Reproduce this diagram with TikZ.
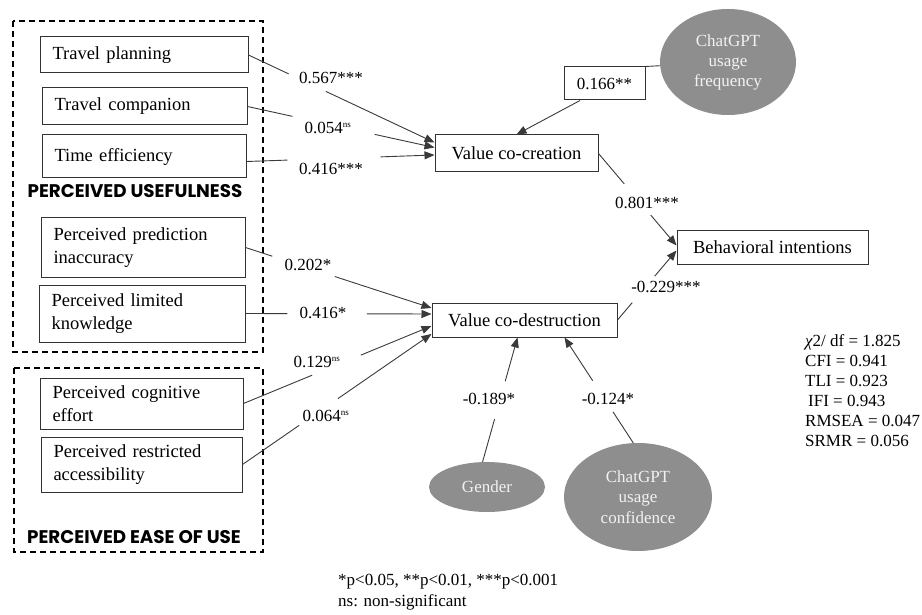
\documentclass[tikz,border=0pt]{standalone}
\usepackage{fontspec}
\setmainfont{Liberation Serif}
\newfontfamily\headfont{Poppins}
\usetikzlibrary{arrows.meta,shapes.geometric,calc}
\definecolor{ellgray}{HTML}{8E8E8E}
\definecolor{elltext}{HTML}{F2F2F2}
\definecolor{linegray}{HTML}{3A3A3A}
\begin{document}
\begin{tikzpicture}[x=1pt,y=-1pt,
  font=\fontsize{17}{20}\selectfont,
  box/.style={draw=black!80, line width=1pt, rectangle, inner xsep=12.5pt, inner ysep=0pt, align=left, font=\fontsize{18.5}{23}\selectfont},
  cbox/.style={draw=black!80, line width=1pt, rectangle, inner sep=0pt, align=center, font=\fontsize{18.5}{23}\selectfont},
  ell/.style={ellipse, fill=ellgray, draw=none, text=elltext, inner sep=0pt, align=center},
  frame/.style={draw=black, line width=1.8pt, dash pattern=on 6pt off 4pt},
  head/.style={font=\headfont\bfseries\fontsize{18.3}{20}\selectfont, inner sep=0pt},
  lbl/.style={inner sep=1pt},
  conn/.style={draw=linegray, line width=0.9pt},
  arr/.style={conn, -{Triangle[length=10pt,width=8pt]}}
]
\useasboundingbox (0,0) rectangle (922,615);

% group frames
\draw[frame] (13,21) rectangle (263,352);
\draw[frame] (14,368) rectangle (263,552);
\node[head] (pu) at (135,191) {PERCEIVED USEFULNESS};
\node[head] (peu) at (134,537) {PERCEIVED EASE OF USE};

% indicator boxes
\node[box, minimum width=208pt, minimum height=36pt, text width=183pt] (tp) at (144,55) {Travel planning};
\node[box, minimum width=205pt, minimum height=37pt, text width=180pt] (tc) at (144.5,106.5) {Travel companion};
\node[box, minimum width=204pt, minimum height=43pt, text width=179pt] (te) at (144,156.5) {Time efficiency};
\node[box, minimum width=204pt, minimum height=59pt, text width=179pt] (ppi) at (143,247.5) {Perceived prediction\\inaccuracy};
\node[box, minimum width=206pt, minimum height=57pt, text width=181pt] (plk) at (142,313.5) {Perceived limited\\knowledge};
\node[box, minimum width=203pt, minimum height=51pt, text width=178pt] (pce) at (141.5,403.5) {Perceived cognitive\\effort};
\node[box, minimum width=201pt, minimum height=55pt, text width=176pt] (pra) at (141.5,464.5) {Perceived restricted\\accessibility};

% constructs
\node[cbox, minimum width=163pt, minimum height=37pt] (vcc) at (516.5,153.5) {Value co-creation};
\node[cbox, minimum width=185pt, minimum height=34pt] (vcd) at (524.5,320) {Value co-destruction};
\node[cbox, minimum width=191pt, minimum height=33pt] (bi) at (772.5,247.5) {Behavioral intentions};
\node[cbox, minimum width=81pt, minimum height=33pt, font=\fontsize{17}{20}\selectfont] (c166) at (604.5,83.5) {0.166**};

% ellipses
\node[ell, minimum width=136pt, minimum height=106pt] (freq) at (728,62) {ChatGPT\\usage\\frequency};
\node[ell, minimum width=116pt, minimum height=50pt] (gender) at (487,487) {Gender};
\node[ell, minimum width=148pt, minimum height=108pt, font=\fontsize{17}{20.5}\selectfont] (conf) at (638,497) {ChatGPT\\usage\\confidence};

% target points
\coordinate (t1) at ([yshift=11pt]vcc.west);
\coordinate (t2) at ([yshift=6pt]vcc.west);
\coordinate (t3) at ([yshift=-1.5pt]vcc.west);
\coordinate (s3) at ([yshift=-5pt]te.east);
\coordinate (t4) at ([yshift=12pt]vcd.west);
\coordinate (t5) at ([yshift=6pt]vcd.west);
\coordinate (t6) at ([yshift=-6pt]vcd.west);
\coordinate (t7) at ([yshift=-14pt]vcd.west);
\coordinate (t8) at ([yshift=2pt]bi.west);
\coordinate (t9) at ([yshift=-3pt]bi.west);
\coordinate (t10) at ([xshift=-7pt]vcd.south);
\coordinate (t11) at ([xshift=40pt]vcd.south);
\coordinate (s166) at ([xshift=-24.5pt]c166.south);

% paths with gaps for coefficients
\draw[conn] (tp.east) -- ($(tp.east)!0.216!(t1)$);
\draw[arr] ($(tp.east)!0.416!(t1)$) -- (t1);
\draw[conn] (tc.east) -- ($(tc.east)!0.24!(t2)$);
\draw[arr] ($(tc.east)!0.68!(t2)$) -- (t2);
\draw[conn] (s3) -- ($(s3)!0.217!(t3)$);
\draw[arr] ($(s3)!0.714!(t3)$) -- (t3);

\draw[conn] (ppi.east) -- ($(ppi.east)!0.144!(t4)$);
\draw[arr] ($(ppi.east)!0.48!(t4)$) -- (t4);
\draw[conn] (plk.east) -- ($(plk.east)!0.225!(t5)$);
\draw[arr] ($(plk.east)!0.652!(t5)$) -- (t5);
\draw[conn] (pce.east) -- ($(pce.east)!0.365!(t6)$);
\draw[arr] ($(pce.east)!0.624!(t6)$) -- (t6);
\draw[conn] (pra.east) -- ($(pra.east)!0.30!(t7)$);
\draw[arr] ($(pra.east)!0.505!(t7)$) -- (t7);

\draw[conn] (freq) -- (c166.north east);
\draw[arr] (s166) -- (vcc.north);

\draw[conn] (vcc.east) -- ($(vcc.east)!0.33!(t8)$);
\draw[arr] ($(vcc.east)!0.67!(t8)$) -- (t8);
\draw[conn] (vcd.east) -- ($(vcd.east)!0.25!(t9)$);
\draw[arr] ($(vcd.east)!0.63!(t9)$) -- (t9);

\draw[conn] (gender.100) -- ($(gender.100)!0.344!(t10)$);
\draw[arr] ($(gender.100)!0.648!(t10)$) -- (t10);
\draw[conn] (conf.95) -- ($(conf.95)!0.295!(t11)$);
\draw[arr] ($(conf.95)!0.59!(t11)$) -- (t11);

% coefficient labels
\node[lbl] (l1) at (331,78) {0.567***};
\node[lbl] (l2) at (328,128) {0.054\textsuperscript{\fontsize{9}{9}\selectfont ns}};
\node[lbl] (l3) at (331,169) {0.416***};
\node[lbl] (l4) at (308,265) {0.202*};
\node[lbl] (l5) at (323,313) {0.416*};
\node[lbl] (l6) at (317,362) {0.129\textsuperscript{\fontsize{9}{9}\selectfont ns}};
\node[lbl] (l7) at (326,416) {0.064\textsuperscript{\fontsize{9}{9}\selectfont ns}};
\node[lbl] (l8) at (647,203) {0.801***};
\node[lbl] (l9) at (666,287) {-0.229***};
\node[lbl] (l10) at (489,399) {-0.189*};
\node[lbl] (l11) at (608,399) {-0.124*};

% fit statistics
\node[anchor=west, align=left, inner sep=0pt] (fit) at (805,391) {{\itshape χ}2/ df = 1.825\\CFI = 0.941\\TLI = 0.923\\\hspace{3pt}IFI = 0.943\\RMSEA = 0.047\\SRMR = 0.056};

% footnote
\node[anchor=west, align=left, inner sep=0pt, font=\fontsize{17}{21}\selectfont] (note) at (338,592) {*p<0.05, **p<0.01, ***p<0.001\\ns: non-significant};
\end{tikzpicture}
\end{document}
